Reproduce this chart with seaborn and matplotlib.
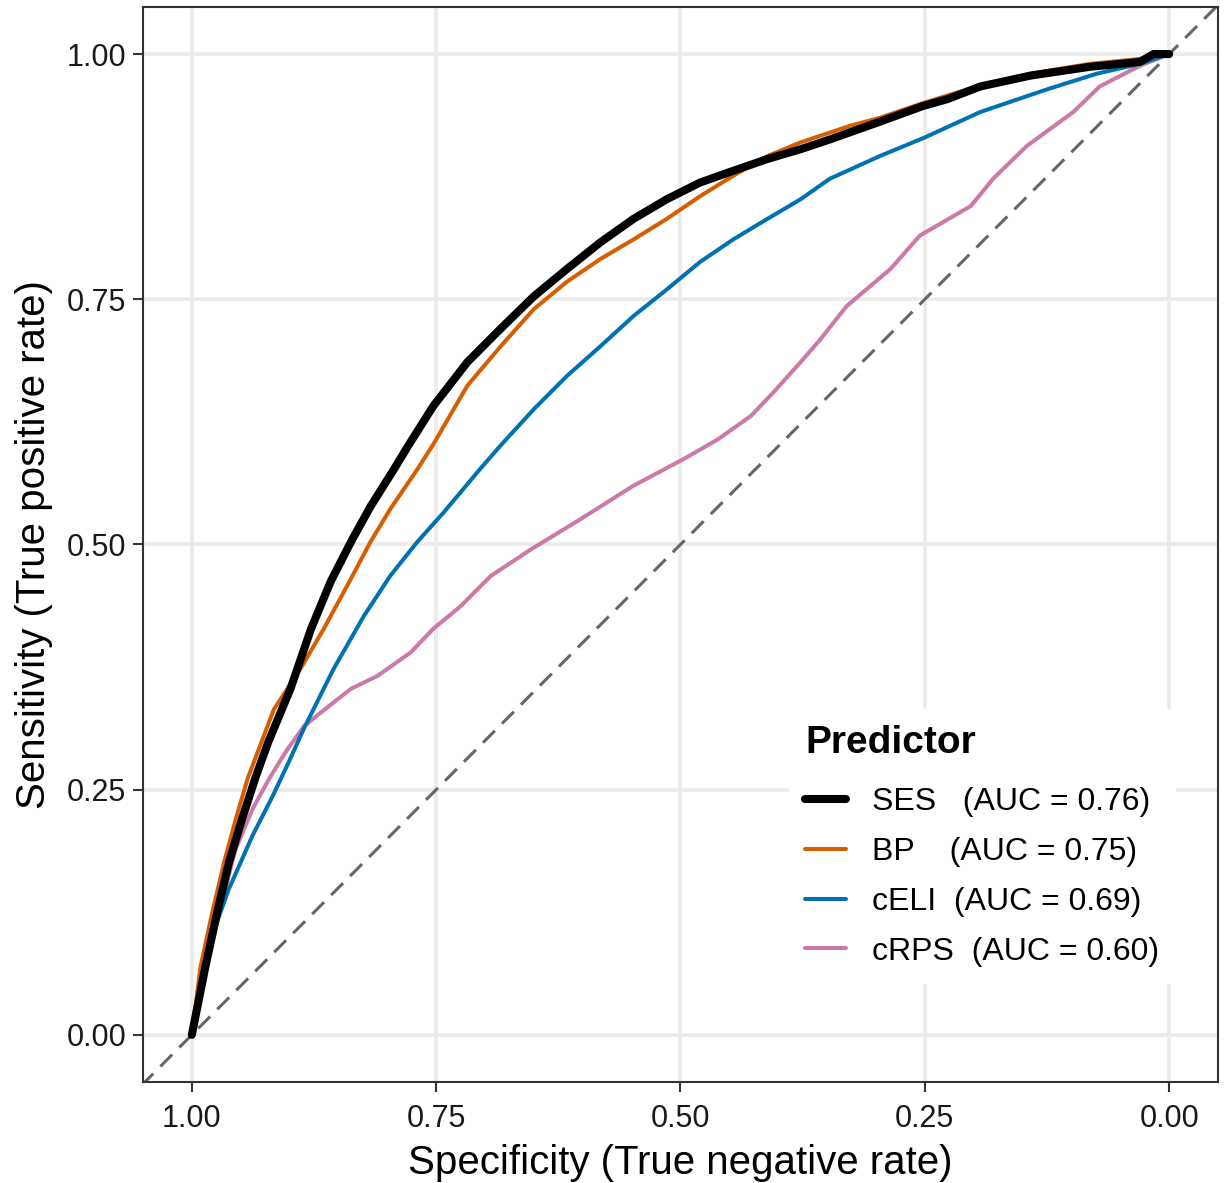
import pandas as pd
import seaborn as sns
import matplotlib.pyplot as plt

# curvas ROC (especificidade, sensibilidade)
ses_spec = [1.0, 0.986, 0.974, 0.962, 0.948, 0.935, 0.922, 0.899, 0.878, 0.858,
            0.837, 0.817, 0.793, 0.779, 0.753, 0.718, 0.684, 0.650, 0.616, 0.582,
            0.548, 0.514, 0.480, 0.446, 0.411, 0.377, 0.347, 0.296, 0.252, 0.227,
            0.193, 0.142, 0.081, 0.030, 0.016, 0.0]
ses_sens = [0.0, 0.070, 0.125, 0.176, 0.222, 0.262, 0.298, 0.353, 0.414, 0.462,
            0.503, 0.539, 0.577, 0.600, 0.641, 0.686, 0.720, 0.753, 0.781, 0.808,
            0.832, 0.852, 0.869, 0.881, 0.893, 0.903, 0.913, 0.931, 0.947, 0.954,
            0.967, 0.978, 0.987, 0.992, 1.0, 1.0]

bp_spec = [1.0, 0.991, 0.979, 0.967, 0.955, 0.943, 0.916, 0.889, 0.865, 0.841,
           0.817, 0.797, 0.769, 0.753, 0.718, 0.684, 0.650, 0.616, 0.582, 0.548,
           0.514, 0.480, 0.446, 0.411, 0.377, 0.326, 0.296, 0.252, 0.193, 0.142,
           0.081, 0.030, 0.0]
bp_sens = [0.0, 0.070, 0.125, 0.176, 0.220, 0.261, 0.332, 0.373, 0.414, 0.458,
           0.503, 0.536, 0.577, 0.602, 0.662, 0.702, 0.740, 0.768, 0.791, 0.811,
           0.832, 0.855, 0.876, 0.896, 0.910, 0.927, 0.935, 0.950, 0.968, 0.980,
           0.990, 0.995, 1.0]

celi_spec = [1.0, 0.983, 0.962, 0.938, 0.917, 0.900, 0.885, 0.855, 0.824, 0.797,
             0.769, 0.742, 0.705, 0.684, 0.650, 0.616, 0.582, 0.548, 0.514, 0.480,
             0.446, 0.411, 0.377, 0.347, 0.296, 0.250, 0.193, 0.125, 0.074, 0.030, 0.0]
celi_sens = [0.0, 0.091, 0.149, 0.203, 0.244, 0.280, 0.313, 0.373, 0.427, 0.468,
             0.503, 0.533, 0.577, 0.601, 0.638, 0.672, 0.702, 0.733, 0.760, 0.788,
             0.811, 0.832, 0.852, 0.873, 0.896, 0.915, 0.941, 0.964, 0.980, 0.990, 1.0]

crps_spec = [1.0, 0.990, 0.972, 0.955, 0.938, 0.921, 0.903, 0.885, 0.860, 0.837,
             0.810, 0.776, 0.753, 0.725, 0.694, 0.653, 0.602, 0.548, 0.497, 0.462,
             0.428, 0.405, 0.377, 0.357, 0.330, 0.285, 0.255, 0.203, 0.180, 0.146,
             0.098, 0.071, 0.030, 0.0]
crps_sens = [0.0, 0.06, 0.125, 0.190, 0.230, 0.261, 0.290, 0.315, 0.335, 0.353,
             0.366, 0.390, 0.414, 0.437, 0.468, 0.495, 0.526, 0.560, 0.587, 0.607,
             0.631, 0.655, 0.686, 0.709, 0.743, 0.781, 0.815, 0.845, 0.873, 0.906,
             0.941, 0.967, 0.988, 1.0]

preditores = ['SES', 'BP', 'cELI', 'cRPS']
rotulos = ['SES   (AUC = 0.76)', 'BP    (AUC = 0.75)', 'cELI  (AUC = 0.69)', 'cRPS  (AUC = 0.60)']
cores = {'SES': 'black', 'BP': '#D55E00', 'cELI': '#0072B2', 'cRPS': '#CC79A7'}
larguras = {'SES': 5.8, 'BP': 2.9, 'cELI': 2.9, 'cRPS': 2.9}

df = pd.concat([
    pd.DataFrame({'spec': ses_spec, 'sens': ses_sens, 'Predictor': 'SES'}),
    pd.DataFrame({'spec': bp_spec, 'sens': bp_sens, 'Predictor': 'BP'}),
    pd.DataFrame({'spec': celi_spec, 'sens': celi_sens, 'Predictor': 'cELI'}),
    pd.DataFrame({'spec': crps_spec, 'sens': crps_sens, 'Predictor': 'cRPS'}),
], ignore_index=True)

sns.set_style('white')
plt.rcParams['font.family'] = ['Liberation Sans', 'DejaVu Sans']
plt.rcParams['text.color'] = 'black'
plt.rcParams['axes.labelcolor'] = 'black'

fig = plt.figure(figsize=(12.25, 11.83), dpi=100)
ax = fig.add_axes([0.1167, 0.0854, 0.8776, 0.9087])

# diagonal de referência
ax.axline((1, 0), (0, 1), color='#666666', lw=2.2, dashes=(5.5, 3.3), zorder=1)

# SES desenhado por último (fica por cima)
ordem_desenho = ['cRPS', 'cELI', 'BP', 'SES']
sns.lineplot(data=df, x='spec', y='sens', hue='Predictor', size='Predictor',
             hue_order=ordem_desenho, size_order=ordem_desenho,
             palette=cores, sizes=larguras, sort=False, estimator=None,
             ax=ax, zorder=2)

ax.set_xlim(1.05, -0.05)
ax.set_ylim(-0.048, 1.048)
ticks = [0.0, 0.25, 0.5, 0.75, 1.0]
ax.set_xticks(ticks)
ax.set_yticks(ticks)
ax.set_xticklabels(['0.00', '0.25', '0.50', '0.75', '1.00'])
ax.set_yticklabels(['0.00', '0.25', '0.50', '0.75', '1.00'])
ax.tick_params(axis='both', labelsize=22, labelcolor='#1a1a1a', color='#333333',
               length=7, width=1.5, direction='out', bottom=True, left=True)
ax.tick_params(axis='x', pad=9)
ax.tick_params(axis='y', pad=5)

ax.grid(True, color='#EBEBEB', lw=2.6)
ax.set_axisbelow(True)
for sp in ax.spines.values():
    sp.set_color('#333333')
    sp.set_linewidth(1.5)

ax.set_xlabel('Specificity (True negative rate)', fontsize=29, labelpad=7)
ax.set_ylabel('Sensitivity (True positive rate)', fontsize=29, labelpad=10)

# legenda
handles, labels = ax.get_legend_handles_labels()
mapa = dict(zip(labels, handles))
leg = ax.legend([mapa[p] for p in preditores], rotulos, title='Predictor',
                loc='upper left', bbox_to_anchor=(0.586, 0.362), frameon=True,
                fontsize=23, title_fontproperties={'weight': 'bold', 'size': 28},
                handlelength=1.3, handletextpad=0.8, labelspacing=0.62,
                alignment='left', borderpad=0.5, fancybox=False)
leg._legend_box.sep = 19
leg.get_frame().set_facecolor('white')
leg.get_frame().set_edgecolor('white')
leg.get_frame().set_alpha(1)
leg.get_title().set_color('black')
for t in leg.get_texts():
    t.set_color('black')
for h, p in zip(leg.legend_handles, preditores):
    h.set_linewidth(larguras[p])

fig.savefig('out.png', dpi=100)
